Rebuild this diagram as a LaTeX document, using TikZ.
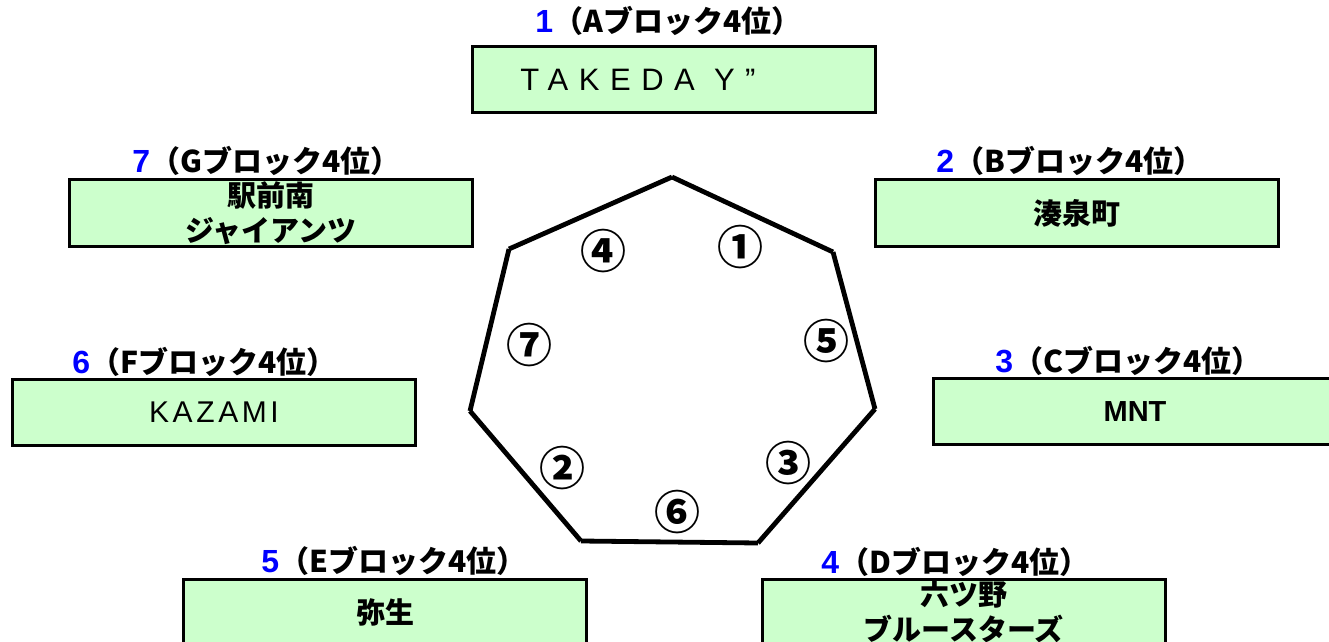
\documentclass[tikz,border=0pt]{standalone}
\usepackage{fontspec}
\setmainfont{Noto Sans CJK JP}
\newfontfamily\jp{Noto Sans CJK JP}
\newfontfamily\lat{Liberation Sans}
\newfontfamily\latwide{Liberation Sans}[LetterSpace=34]
\newfontfamily\latmid{Liberation Sans}[LetterSpace=12]
\definecolor{boxgreen}{HTML}{CCFFCC}
\definecolor{numblue}{HTML}{0000FF}
\newcommand{\blocklbl}[2]{{\color{numblue}\lat\bfseries\fontsize{16}{17}\selectfont #1}（#2ブロック4位）}
\tikzset{
  teambox/.style={draw, line width=1.5pt, fill=boxgreen, minimum width=201.5pt,
    minimum height=33pt, inner sep=0pt, align=center,
    font=\jp\fontsize{14.5}{17.5}\selectfont},
  blocklabel/.style={anchor=base west, inner sep=0pt, font=\jp\bfseries\fontsize{15}{17}\selectfont},
  edge/.style={line width=2.4pt},
  circnum/.style={inner sep=0pt, font=\jp\bfseries\fontsize{23}{24}\selectfont}
}
\begin{document}
\begin{tikzpicture}[x=0.5pt,y=-0.5pt]
\useasboundingbox (0,0) rectangle (1329,642);
% boxes
\node[teambox] (b1) at (674,79.5) {\latwide\fontsize{15.5}{17.5}\selectfont TAKEDA Y”\hspace*{36pt}};
\node[teambox] (b2) at (1076.5,213) {\bfseries 湊泉町};
\node[teambox] (b3) at (1135,411.5) {\lat\bfseries MNT};
\node[teambox] (b4) at (963.5,612) {\bfseries 六ツ野\\\bfseries ブルースターズ};
\node[teambox] (b5) at (385,612) {\bfseries 弥生};
\node[teambox] (b6) at (214,412.5) {\latmid\fontsize{15}{17.5}\selectfont KAZAMI};
\node[teambox] (b7) at (271,213) {\bfseries 駅前南\\\bfseries ジャイアンツ};
% labels
\node[blocklabel] (l1) at (535,33) {\blocklbl{1}{A}};
\node[blocklabel] (l2) at (936,173) {\blocklbl{2}{B}};
\node[blocklabel] (l3) at (995,372) {\blocklbl{3}{C}};
\node[blocklabel] (l4) at (821,573) {\blocklbl{4}{D}};
\node[blocklabel] (l5) at (261,572) {\blocklbl{5}{E}};
\node[blocklabel] (l6) at (72,373) {\blocklbl{6}{F}};
\node[blocklabel] (l7) at (132,173) {\blocklbl{7}{G}};
% heptagon
\coordinate (v1) at (672,177);
\coordinate (v2) at (833,252);
\coordinate (v3) at (875,409);
\coordinate (v4) at (758,543);
\coordinate (v5) at (581,541);
\coordinate (v6) at (470,411);
\coordinate (v7) at (509,249);
\draw[edge] (v1) -- (v2);
\draw[edge] (v2) -- (v3);
\draw[edge] (v3) -- (v4);
\draw[edge] (v4) -- (v5);
\draw[edge] (v5) -- (v6);
\draw[edge] (v6) -- (v7);
\draw[edge] (v7) -- (v1);
% circled numbers
\node[circnum] (c1) at (740,247) {①};
\node[circnum] (c4) at (603,251) {④};
\node[circnum] (c5) at (826,341) {⑤};
\node[circnum] (c7) at (529,345) {⑦};
\node[circnum] (c2) at (562,468) {②};
\node[circnum] (c3) at (788,463) {③};
\node[circnum] (c6) at (677,512) {⑥};
\end{tikzpicture}
\end{document}
